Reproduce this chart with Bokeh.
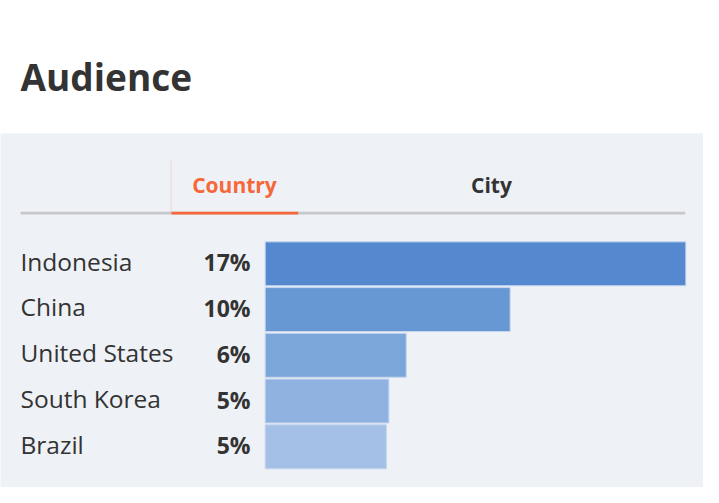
from bokeh.plotting import figure
from bokeh.models import Range1d, BoxAnnotation, ColumnDataSource
from bokeh.core.properties import value
from bokeh.embed import file_html
from bokeh.resources import INLINE

# ---- data ----
countries = ["Indonesia", "China", "United States", "South Korea", "Brazil"]
shares = [17.0, 9.9, 5.7, 5.0, 4.9]
share_labels = ["17%", "10%", "6%", "5%", "5%"]
bar_colors = ["#5589cf", "#6898d4", "#7ba6da", "#8fb2e0", "#a4c0e6"]
title_text = "Audience"
tab_labels = ["Country", "City"]

# ---- layout (page pixels of the reference) ----
W, H = 703, 487
OX, OY = 8, 8                 # page margin
BAR_X0, BAR_X1 = 272.7, 693.3  # bar area in page px
ROW0_Y, PITCH = 271.3, 45.75   # centre of first row, row pitch
n = len(countries)
k = (BAR_X1 - BAR_X0) / max(shares)   # px per percent
BL = 0.39                      # baseline correction (fraction of font size)

def px2x(px):
    return (px - BAR_X0) / k

def px2y(py):
    return (n - 1) - (py - ROW0_Y) / PITCH

p = figure(width=W, height=H, output_backend="svg", toolbar_location=None,
           x_range=Range1d(px2x(OX), px2x(OX + W)),
           y_range=Range1d(px2y(OY + H), px2y(OY)),
           x_axis_location=None, y_axis_location=None,
           min_border=0, outline_line_color=None,
           background_fill_color="white", border_fill_color="white")
p.grid.visible = False

# panel background
panel = BoxAnnotation(left=px2x(1), right=px2x(718), top=px2y(141), bottom=px2y(540),
                      fill_color="#eef1f5", fill_alpha=1, line_color=None,
                      border_radius=8, level="underlay")
p.add_layout(panel)

TXT = "#333333"
ORANGE = "#f6673a"
FONT = value("Open Sans")

# title
TFS = 37
p.text(x=[px2x(28)], y=[px2y(98.3 - BL * TFS)], text=[title_text], text_font=FONT,
       text_font_size=f"{TFS}px", text_font_style="bold", text_color=TXT,
       text_align="left", text_baseline="alphabetic")

# tabs
TABFS = 21
p.text(x=[px2x(242), px2x(499)], y=[px2y(200.5 - BL * TABFS)] * 2, text=tab_labels,
       text_font=FONT, text_font_size=f"{TABFS}px", text_font_style="bold",
       text_color=[ORANGE, TXT], text_align="center", text_baseline="alphabetic")
# tab separator and underline
p.segment(x0=[px2x(178.5)], y0=[px2y(168)], x1=[px2x(178.5)], y1=[px2y(220)],
          line_color="#eedfdf", line_width=1.5)
p.segment(x0=[px2x(28)], y0=[px2y(220.6)], x1=[px2x(692.7)], y1=[px2y(220.6)],
          line_color="#c6c8cb", line_width=2.7)
p.segment(x0=[px2x(179)], y0=[px2y(220.6)], x1=[px2x(305.7)], y1=[px2y(220.6)],
          line_color=ORANGE, line_width=2.7)

# bars
rows = [n - 1 - i for i in range(n)]
src = ColumnDataSource(dict(country=countries, share=shares, label=share_labels,
                            color=bar_colors, row=rows))
p.hbar(y="row", left=0, right="share", height=0.96, fill_color="color",
       line_color="#c4d6ef", line_width=1, source=src)

# row labels
NFS, PFS = 24.5, 23
p.text(x=0, y="row", text="country", source=src, x_offset=28 - BAR_X0,
       y_offset=7 - BL * NFS,
       text_font=FONT, text_font_size=f"{NFS}px", text_color=TXT,
       text_align="left", text_baseline="alphabetic")
p.text(x=0, y="row", text="label", source=src, x_offset=258 - BAR_X0,
       y_offset=7.5 - BL * PFS,
       text_font=FONT, text_font_size=f"{PFS}px", text_font_style="bold", text_color=TXT,
       text_align="right", text_baseline="alphabetic")

open("out.html", "w").write(file_html(p, INLINE))
